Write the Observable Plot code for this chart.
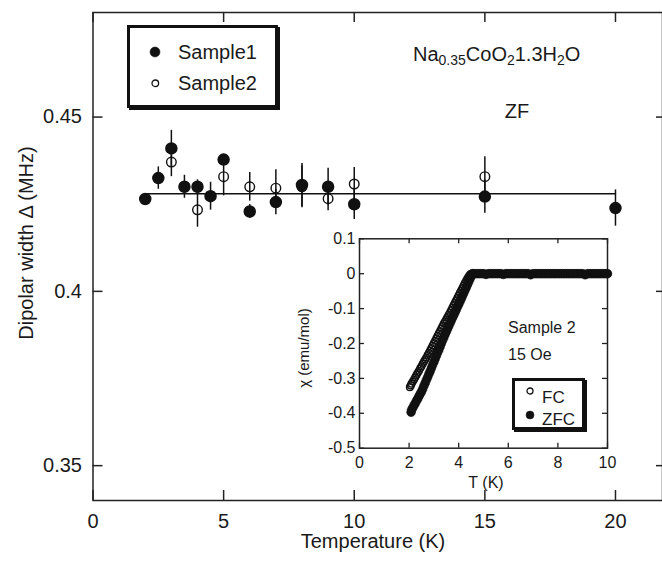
<!DOCTYPE html>
<html><head><meta charset="utf-8">
<script src="https://cdn.jsdelivr.net/npm/d3@7"></script>
<script src="https://cdn.jsdelivr.net/npm/@observablehq/plot@0.6"></script>
<style>
body{margin:0;background:#fff;}
#wrap{position:relative;width:662px;height:562px;overflow:hidden;font-family:"Liberation Sans",Arial,sans-serif;color:#1a1a1a;background:#fff;}
#wrap svg{position:absolute;}
.t{position:absolute;white-space:nowrap;line-height:1;}
.box{position:absolute;border:3px solid #111;box-shadow:2px 2px 0 #111;background:#fff;box-sizing:border-box;}
</style></head><body><div id="wrap"></div>
<script>
// ---------- main panel data ----------
const xTicks = [0, 5, 10, 15, 20];
const yTicks = [0.35, 0.40, 0.45];
const s1T   = [2, 2.5, 3, 3.5, 4, 4.5, 5, 6, 7, 8, 9, 10, 15, 20];
const s1Val = [0.4265, 0.4325, 0.441, 0.430, 0.430, 0.4273, 0.4378, 0.4229, 0.4256, 0.4305, 0.430, 0.425, 0.4272, 0.4239];
const s1Err = [0.001, 0.0032, 0.0052, 0.0033, 0.002, 0.004, 0.0015, 0.002, 0.0036, 0.0062, 0.0053, 0.0044, 0.0048, 0.0052];
const s2T   = [3, 4, 5, 6, 7, 8, 9, 10, 15];
const s2Val = [0.4371, 0.4234, 0.4329, 0.430, 0.4296, 0.4300, 0.4266, 0.4308, 0.4329];
const s2Err = [0.0042, 0.005, 0.0055, 0.0041, 0.0053, 0.006, 0.0035, 0.0047, 0.0057];
const fitT  = [2, 20];
const fitVal = [0.428, 0.428];

// ---------- inset data ----------
const insetXTicks = [0, 2, 4, 6, 8, 10];
const insetYTicks = [0.1, 0, -0.1, -0.2, -0.3, -0.4, -0.5];
const flatT = [4.6,4.7,4.8,4.9,5.0,5.1,5.2,5.3,5.4,5.5,5.6,5.7,5.8,5.9,6.0,6.1,6.2,6.3,6.4,6.5,6.6,6.7,6.8,6.9,7.0,7.1,7.2,7.3,7.4,7.5,7.6,7.7,7.8,7.9,8.0,8.1,8.2,8.3,8.4,8.5,8.6,8.7,8.8,8.9,9.0,9.1,9.2,9.3,9.4,9.5,9.6,9.7,9.8,9.9,10.0];
const flatV = [0,0,0,0,0,-0.002,0,0,0,0,0,0,-0.002,0,0,0,0,0,0,0,0,0,0,-0.003,0,0,0,0,0,0,0,0,0,0,0,0,0,0,0,0,0,0,0,0,0,-0.003,0,0,0,0,0,0,0,0,0];
const zfcRiseT = [2.08,2.10,2.15,2.20,2.25,2.30,2.35,2.40,2.45,2.50,2.55,2.60,2.65,2.70,2.75,2.80,2.85,2.90,2.95,3.00,3.05,3.10,3.15,3.20,3.25,3.30,3.35,3.40,3.45,3.50,3.55,3.60,3.65,3.70,3.75,3.80,3.85,3.90,3.95,4.00,4.05,4.10,4.15,4.20,4.25,4.30,4.35,4.40,4.45,4.50,4.55];
const zfcRiseV = [-0.397,-0.390,-0.384,-0.377,-0.371,-0.364,-0.358,-0.351,-0.344,-0.338,-0.330,-0.321,-0.313,-0.304,-0.296,-0.287,-0.279,-0.270,-0.261,-0.253,-0.244,-0.235,-0.226,-0.218,-0.209,-0.200,-0.191,-0.183,-0.174,-0.166,-0.158,-0.150,-0.142,-0.134,-0.126,-0.119,-0.111,-0.103,-0.095,-0.088,-0.080,-0.072,-0.064,-0.056,-0.048,-0.040,-0.032,-0.024,-0.016,-0.008,0];
const fcRiseT = [2.03,2.07,2.10,2.15,2.20,2.25,2.30,2.35,2.40,2.45,2.50,2.55,2.60,2.65,2.70,2.75,2.80,2.85,2.90,2.95,3.00,3.05,3.10,3.15,3.20,3.25,3.30,3.35,3.40,3.45,3.50,3.55,3.60,3.65,3.70,3.75,3.80,3.85,3.90,3.95,4.00,4.05,4.10,4.15,4.20,4.25,4.30,4.35,4.40,4.45,4.50];
const fcRiseV = [-0.325,-0.320,-0.315,-0.309,-0.303,-0.297,-0.290,-0.284,-0.278,-0.271,-0.265,-0.258,-0.252,-0.246,-0.240,-0.233,-0.227,-0.220,-0.213,-0.206,-0.199,-0.192,-0.185,-0.178,-0.171,-0.164,-0.157,-0.150,-0.143,-0.137,-0.131,-0.124,-0.118,-0.111,-0.104,-0.097,-0.090,-0.083,-0.076,-0.069,-0.062,-0.055,-0.048,-0.041,-0.034,-0.027,-0.020,-0.014,-0.008,-0.003,0];
const zfcT = zfcRiseT.concat(flatT), zfcV = zfcRiseV.concat(flatV);
const fcT = fcRiseT.concat(flatT), fcV = fcRiseV.concat(flatV);

const FONT = '"Liberation Sans", Arial, sans-serif';
const INK = "#111";

// ---------- main plot ----------
const W = 662, H = 562, mL = 92.5, mR = 0, mT = 12, mB = 62;
const pW = W - mL - mR, pH = H - mT - mB;
const s1 = s1T.map((t, i) => ({t, v: s1Val[i], e: s1Err[i]}));
const s2 = s2T.map((t, i) => ({t, v: s2Val[i], e: s2Err[i]}));
const fit = fitT.map((t, i) => ({t, v: fitVal[i]}));

const main = Plot.plot({
  width: W, height: H, marginLeft: mL, marginRight: mR, marginTop: mT, marginBottom: mB,
  style: {fontFamily: FONT, fontSize: "20px", color: "#1a1a1a", background: "transparent", overflow: "visible"},
  x: {domain: [0, 21.8]},
  y: {domain: [0.34, 0.48]},
  marks: [
    Plot.frame({stroke: "#222", strokeWidth: 1.5}),
    Plot.axisX(xTicks, {tickSize: 0, tickPadding: 13, label: null, fontSize: 20, tickFormat: d => String(d)}),
    Plot.axisY(yTicks, {tickSize: 0, tickPadding: 11, label: null, fontSize: 20, tickFormat: d => String(+d.toFixed(2))}),
    Plot.tickX(xTicks, {x: d => d, insetTop: pH - 10, stroke: "#222", strokeWidth: 1.5}),
    Plot.tickX(xTicks, {x: d => d, insetBottom: pH - 10, stroke: "#222", strokeWidth: 1.5}),
    Plot.tickY(yTicks, {y: d => d, insetRight: pW - 10, stroke: "#222", strokeWidth: 1.5}),
    Plot.tickY(yTicks, {y: d => d, insetLeft: pW - 6, stroke: "#222", strokeWidth: 1.5}),
    Plot.line(fit, {x: "t", y: "v", stroke: INK, strokeWidth: 1.5}),
    Plot.ruleX(s2, {x: "t", y1: d => d.v - d.e, y2: d => d.v + d.e, stroke: INK, strokeWidth: 1.5}),
    Plot.ruleX(s1, {x: "t", y1: d => d.v - d.e, y2: d => d.v + d.e, stroke: INK, strokeWidth: 1.5}),
    Plot.dot(s2, {x: "t", y: "v", r: 4.8, fill: "none", stroke: INK, strokeWidth: 1.4}),
    Plot.dot(s1, {x: "t", y: "v", r: 5.5, fill: INK, stroke: INK})
  ]
});
main.style.left = "0px"; main.style.top = "0px";

// ---------- inset plot ----------
const iX = 290, iY = 225, iW = 335, iH = 270, imL = 69, imR = 18, imT = 13.3, imB = 47.3;
const ipW = iW - imL - imR, ipH = iH - imT - imB;
const zfc = zfcT.map((t, i) => ({t, v: zfcV[i]}));
const fc = fcT.map((t, i) => ({t, v: fcV[i]}));
const inset = Plot.plot({
  width: iW, height: iH, marginLeft: imL, marginRight: imR, marginTop: imT, marginBottom: imB,
  style: {fontFamily: FONT, fontSize: "16px", color: "#1a1a1a", background: "transparent", overflow: "visible"},
  x: {domain: [0, 10]},
  y: {domain: [-0.5, 0.1]},
  marks: [
    Plot.frame({stroke: "#222", strokeWidth: 1.5}),
    Plot.axisX(insetXTicks, {tickSize: 0, tickPadding: 8, label: null, fontSize: 16, tickFormat: d => String(d)}),
    Plot.axisY(insetYTicks, {tickSize: 0, tickPadding: 4, label: null, fontSize: 16, tickFormat: d => String(+d.toFixed(1))}),
    Plot.tickX(insetXTicks, {x: d => d, insetTop: ipH - 5, stroke: "#222", strokeWidth: 1.3}),
    Plot.tickX(insetXTicks, {x: d => d, insetBottom: ipH - 5, stroke: "#222", strokeWidth: 1.3}),
    Plot.tickY(insetYTicks, {y: d => d, insetRight: ipW - 5, stroke: "#222", strokeWidth: 1.3}),
    Plot.tickY(insetYTicks, {y: d => d, insetLeft: ipW - 5, stroke: "#222", strokeWidth: 1.3}),
    Plot.dot(zfc, {x: "t", y: "v", r: 4.4, fill: INK, stroke: INK, strokeWidth: 0.5}),
    Plot.dot(fc, {x: "t", y: "v", r: 3.3, fill: "none", stroke: INK, strokeWidth: 1.5})
  ]
});
inset.style.left = iX + "px"; inset.style.top = iY + "px";

const wrap = document.getElementById("wrap");
wrap.appendChild(main);
wrap.appendChild(inset);

function addText(html, x, y, size, anchor, extra) {
  const d = document.createElement("div");
  d.className = "t";
  d.innerHTML = html;
  d.style.left = x + "px"; d.style.top = y + "px"; d.style.fontSize = size + "px";
  d.style.transform = (anchor === "center" ? "translate(-50%,-50%)" : "translate(0,-50%)") + (extra || "");
  wrap.appendChild(d);
  return d;
}
function addBox(x, y, w, h) {
  const b = document.createElement("div");
  b.className = "box";
  Object.assign(b.style, {left: x + "px", top: y + "px", width: w + "px", height: h + "px"});
  wrap.appendChild(b);
}
function addMarker(x, y, r, filled) {
  const ns = "http://www.w3.org/2000/svg";
  const s = document.createElementNS(ns, "svg");
  s.setAttribute("width", 2 * r + 4); s.setAttribute("height", 2 * r + 4);
  s.style.left = (x - r - 2) + "px"; s.style.top = (y - r - 2) + "px";
  const c = document.createElementNS(ns, "circle");
  c.setAttribute("cx", r + 2); c.setAttribute("cy", r + 2); c.setAttribute("r", r);
  c.setAttribute("fill", filled ? INK : "none"); c.setAttribute("stroke", INK); c.setAttribute("stroke-width", filled ? 0.5 : 1.3);
  s.appendChild(c);
  wrap.appendChild(s);
}

// axis labels
addText("Temperature (K)", 373, 541, 20, "center");
addText("Dipolar width &Delta; (MHz)", 26, 243, 20, "center", " rotate(-90deg)");
addText("T (K)", 486, 483, 16, "center");
addText("&chi; (emu/mol)", 303, 348, 15, "center", " rotate(-90deg)");

// annotations
addText("Na<sub style='font-size:14px;vertical-align:-4px'>0.35</sub>CoO<sub style='font-size:14px;vertical-align:-4px'>2</sub>1.3H<sub style='font-size:14px;vertical-align:-4px'>2</sub>O", 413, 55, 20, "left");
addText("ZF", 517, 111, 20, "center");
addText("Sample 2", 508, 328, 16, "left");
addText("15 Oe", 508, 355, 16, "left");

// main legend
addBox(127, 25, 151, 83);
addMarker(155, 52, 5, true);
addMarker(155, 83, 3.3, false);
addText("Sample1", 178, 52, 20, "left");
addText("Sample2", 178, 83, 20, "left");

// inset legend
addBox(511.5, 378, 73.5, 52);
addMarker(530, 391, 3, false);
addMarker(530, 415, 4, true);
addText("FC", 542, 397, 17, "left");
addText("ZFC", 542, 418.5, 17, "left");
</script></body></html>
